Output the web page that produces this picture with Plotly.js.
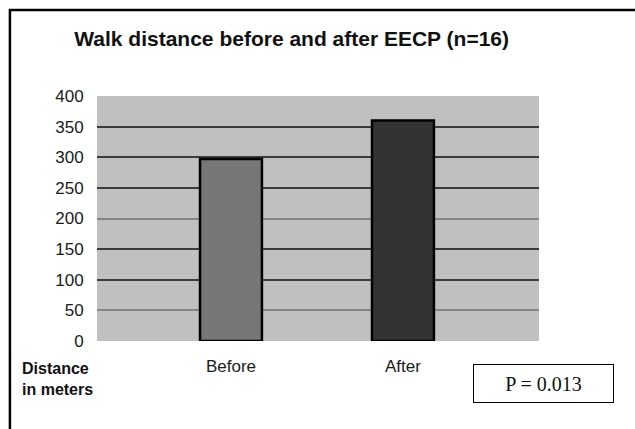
<!DOCTYPE html>
<html>
<head>
<meta charset="utf-8">
<script src="https://cdn.plot.ly/plotly-3.0.1.min.js"></script>
<style>
  html, body { margin: 0; padding: 0; background: #ffffff; }
  #chart { width: 635px; height: 429px; }
</style>
</head>
<body>
<div id="chart"></div>
<script>
// ---- data ----
const categories = ["Before", "After"];
const distances = [297, 360];
const barColors = ["#777777", "#333333"];
const darkGridTicks = [100, 150, 250, 300, 350, 400];
const lightGridTicks = [0, 50, 200];
const titleText = "Walk distance before and after EECP (n=16)";
const yLabelText = "Distance<br>in meters";
const pValueText = "P = 0.013";

const tickFont = { family: "Liberation Sans, Arial, sans-serif", size: 17, color: "#1a1a1a" };

const traces = [
  {
    type: "bar",
    x: categories,
    y: distances,
    width: 0.36,
    marker: { color: barColors, line: { color: "#000000", width: 2.5 } },
    hoverinfo: "x+y"
  },
  {
    type: "scatter",
    x: [],
    y: [],
    yaxis: "y2",
    showlegend: false,
    hoverinfo: "skip"
  }
];

const layout = {
  width: 635,
  height: 429,
  margin: { l: 97, r: 96, t: 96, b: 88 },
  paper_bgcolor: "#ffffff",
  plot_bgcolor: "#c0c0c0",
  showlegend: false,
  bargap: 0.5,
  title: {
    text: "<b>" + titleText + "</b>",
    font: { family: "Liberation Sans, Arial, sans-serif", size: 21, color: "#111111" },
    xref: "container",
    x: 0.117,
    xanchor: "left",
    yref: "container",
    y: 0.909,
    yanchor: "middle"
  },
  xaxis: {
    type: "category",
    range: [-0.779, 1.791],
    showgrid: false,
    zeroline: false,
    showline: false,
    ticks: "outside",
    ticklen: 10,
    tickcolor: "rgba(0,0,0,0)",
    tickfont: tickFont,
    fixedrange: true
  },
  yaxis: {
    range: [0, 400],
    tickvals: darkGridTicks,
    showgrid: true,
    gridcolor: "#3c3c3c",
    gridwidth: 2,
    zeroline: false,
    showline: false,
    ticks: "outside",
    ticklen: 9,
    tickcolor: "rgba(0,0,0,0)",
    tickfont: tickFont,
    fixedrange: true
  },
  yaxis2: {
    overlaying: "y",
    side: "left",
    range: [0, 400],
    tickvals: lightGridTicks,
    showgrid: true,
    gridcolor: "#858585",
    gridwidth: 2,
    zeroline: false,
    showline: false,
    ticks: "outside",
    ticklen: 9,
    tickcolor: "rgba(0,0,0,0)",
    tickfont: tickFont,
    fixedrange: true
  },
  shapes: [
    {
      type: "rect",
      xref: "paper", yref: "paper",
      x0: -0.197, x1: 1.24, y0: -0.404, y1: 1.351,
      line: { color: "#000000", width: 2.5 },
      fillcolor: "rgba(0,0,0,0)",
      layer: "below"
    }
  ],
  annotations: [
    {
      text: "<b>" + yLabelText + "</b>",
      xref: "paper", yref: "paper",
      x: -0.174, y: -0.155,
      xanchor: "left", yanchor: "middle",
      align: "left",
      showarrow: false,
      font: { family: "Liberation Sans, Arial, sans-serif", size: 16, color: "#111111" }
    },
    {
      text: pValueText,
      xref: "paper", yref: "paper",
      x: 1.010, y: -0.173,
      xanchor: "center", yanchor: "middle",
      showarrow: false,
      width: 137,
      height: 35,
      bordercolor: "#000000",
      borderwidth: 1,
      bgcolor: "#ffffff",
      font: { family: "Liberation Serif, Times New Roman, serif", size: 20, color: "#111111" }
    }
  ]
};

Plotly.newPlot("chart", traces, layout, { displayModeBar: false, staticPlot: true });
</script>
</body>
</html>
